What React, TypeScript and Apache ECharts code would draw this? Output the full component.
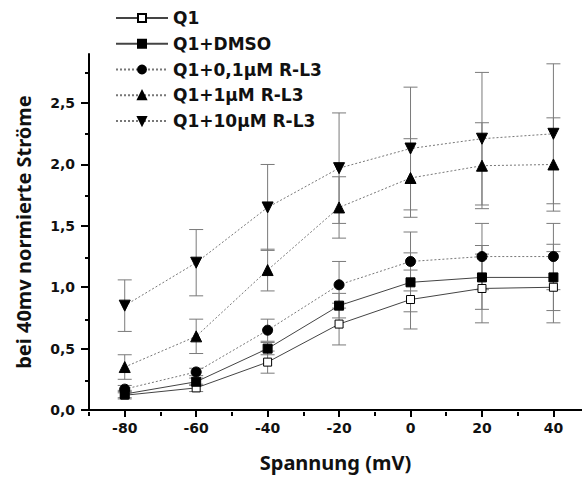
import React, { useEffect, useRef } from "react";
import * as echarts from "echarts";

const volt = [-80, -60, -40, -20, 0, 20, 40];

const q1 = [0.12, 0.18, 0.39, 0.7, 0.9, 0.99, 1.0];
const q1Err = [0.03, 0.03, 0.09, 0.17, 0.24, 0.28, 0.29];
const dmso = [0.13, 0.23, 0.5, 0.85, 1.04, 1.08, 1.08];
const dmsoErr = [0.03, 0.03, 0.05, 0.1, 0.24, 0.26, 0.27];
const rl01 = [0.17, 0.31, 0.65, 1.02, 1.21, 1.25, 1.25];
const rl01Err = [0.03, 0.03, 0.09, 0.19, 0.24, 0.27, 0.27];
const rl1 = [0.35, 0.6, 1.14, 1.65, 1.89, 1.99, 2.0];
const rl1Err = [0.1, 0.14, 0.17, 0.25, 0.32, 0.35, 0.38];
const rl10 = [0.85, 1.2, 1.65, 1.97, 2.13, 2.21, 2.25];
const rl10Err = [0.21, 0.27, 0.35, 0.45, 0.5, 0.54, 0.57];

const seriesNames = ["Q1", "Q1+DMSO", "Q1+0,1µM R-L3", "Q1+1µM R-L3", "Q1+10µM R-L3"];

const xMajor = [-80, -60, -40, -20, 0, 20, 40];
const xMinor = [-90, -70, -50, -30, -10, 10, 30];
const yMajor = [0, 0.5, 1, 1.5, 2, 2.5];
const yMinor = [0.25, 0.75, 1.25, 1.75, 2.25, 2.75];

const TICK_FONT = "DejaVu Sans";
const TITLE_FONT = "Noto Sans";
const X_MIN = -90;
const X_MAX = 48;
const Y_MIN = 0;
const Y_MAX = 2.9;

export default function App() {
  const ref = useRef<HTMLDivElement>(null);
  useEffect(() => {
    if (!ref.current) return;
    const chart = echarts.init(ref.current, null, { renderer: "svg" });

    const groups = [
      { name: seriesNames[0], vals: q1, err: q1Err, symbol: "rect", size: 8, fill: "#fff", dash: "solid", lc: "#444", rot: 0 },
      { name: seriesNames[1], vals: dmso, err: dmsoErr, symbol: "rect", size: 9, fill: "#000", dash: "solid", lc: "#444", rot: 0 },
      { name: seriesNames[2], vals: rl01, err: rl01Err, symbol: "circle", size: 10, fill: "#000", dash: [2, 2], lc: "#777", rot: 0 },
      { name: seriesNames[3], vals: rl1, err: rl1Err, symbol: "triangle", size: 11, fill: "#000", dash: [2, 2], lc: "#777", rot: 0 },
      { name: seriesNames[4], vals: rl10, err: rl10Err, symbol: "triangle", size: 11, fill: "#000", dash: [2, 2], lc: "#777", rot: 180 },
    ];

    const errSeries = groups.map((g) => ({
      type: "custom",
      name: "err-" + g.name,
      z: 1,
      silent: true,
      data: volt.map((v, i) => [v, g.vals[i], g.err[i]]),
      renderItem: (params: any, api: any) => {
        const x = api.value(0);
        const y = api.value(1);
        const e = api.value(2);
        const hi = api.coord([x, y + e]);
        const lo = api.coord([x, y - e]);
        const w = 7;
        const st = { stroke: "#7a7a7a", lineWidth: 1 };
        return {
          type: "group",
          children: [
            { type: "line", shape: { x1: hi[0], y1: hi[1], x2: lo[0], y2: lo[1] }, style: st },
            { type: "line", shape: { x1: hi[0] - w, y1: hi[1], x2: hi[0] + w, y2: hi[1] }, style: st },
            { type: "line", shape: { x1: lo[0] - w, y1: lo[1], x2: lo[0] + w, y2: lo[1] }, style: st },
          ],
        };
      },
    }));

    const lineSeries = groups.map((g) => ({
      type: "line",
      name: g.name,
      z: 3,
      data: volt.map((v, i) => [v, g.vals[i]]),
      symbol: g.symbol,
      symbolSize: g.size,
      symbolRotate: g.rot,
      showAllSymbol: true,
      itemStyle: { color: g.fill, borderColor: "#000", borderWidth: 1 },
      lineStyle: { color: g.lc, width: 1, type: g.dash },
    }));

    const tickFont = { fontFamily: TICK_FONT, fontWeight: "bold" as const, color: "#111", fontSize: 14 };
    const titleFont = { fontFamily: TITLE_FONT, fontWeight: "bold" as const, color: "#111", fontSize: 20 };
    const gridRect = { left: 89, right: 0, top: 54, bottom: 65, containLabel: false };

    chart.setOption({
      animation: false,
      backgroundColor: "#fff",
      grid: [gridRect, gridRect],
      legend: {
        data: seriesNames,
        orient: "vertical",
        left: 110,
        top: 4,
        itemWidth: 52,
        itemHeight: 10,
        itemGap: 8,
        textStyle: { fontFamily: TICK_FONT, fontWeight: "bold", fontSize: 17, color: "#111", lineHeight: 17.8 },
      },
      xAxis: [
        {
          type: "value",
          gridIndex: 0,
          min: X_MIN,
          max: X_MAX,
          name: "Spannung (mV)",
          nameLocation: "middle",
          nameGap: 42,
          nameTextStyle: titleFont,
          splitLine: { show: false },
          axisLine: { onZero: false, lineStyle: { color: "#000", width: 2 } },
          axisTick: { customValues: xMajor, length: 7, lineStyle: { color: "#000", width: 2 } },
          axisLabel: {
            customValues: xMajor,
            ...tickFont,
            margin: 11,
            formatter: (v: number) => String(v),
          },
        },
        {
          type: "value",
          gridIndex: 1,
          min: X_MIN,
          max: X_MAX,
          splitLine: { show: false },
          axisLine: { show: false, onZero: false },
          axisTick: { customValues: xMinor, length: 4, lineStyle: { color: "#000", width: 2 } },
          axisLabel: { show: false },
        },
      ],
      yAxis: [
        {
          type: "value",
          gridIndex: 0,
          min: Y_MIN,
          max: Y_MAX,
          name: "bei 40mv normierte Ströme",
          nameLocation: "middle",
          nameGap: 56,
          nameTextStyle: titleFont,
          splitLine: { show: false },
          axisLine: { onZero: false, lineStyle: { color: "#000", width: 2 } },
          axisTick: { customValues: yMajor, length: 8, lineStyle: { color: "#000", width: 2 } },
          axisLabel: {
            customValues: yMajor,
            ...tickFont,
            margin: 14,
            formatter: (v: number) => v.toFixed(1).replace(".", ","),
          },
        },
        {
          type: "value",
          gridIndex: 1,
          min: Y_MIN,
          max: Y_MAX,
          splitLine: { show: false },
          axisLine: { show: false, onZero: false },
          axisTick: { customValues: yMinor, length: 4, lineStyle: { color: "#000", width: 2 } },
          axisLabel: { show: false },
        },
      ],
      series: [...errSeries, ...lineSeries],
    });
    return () => chart.dispose();
  }, []);

  return (
    <div
      ref={ref}
      style={{ position: "fixed", left: 0, top: 0, width: 582, height: 477 }}
    />
  );
}
